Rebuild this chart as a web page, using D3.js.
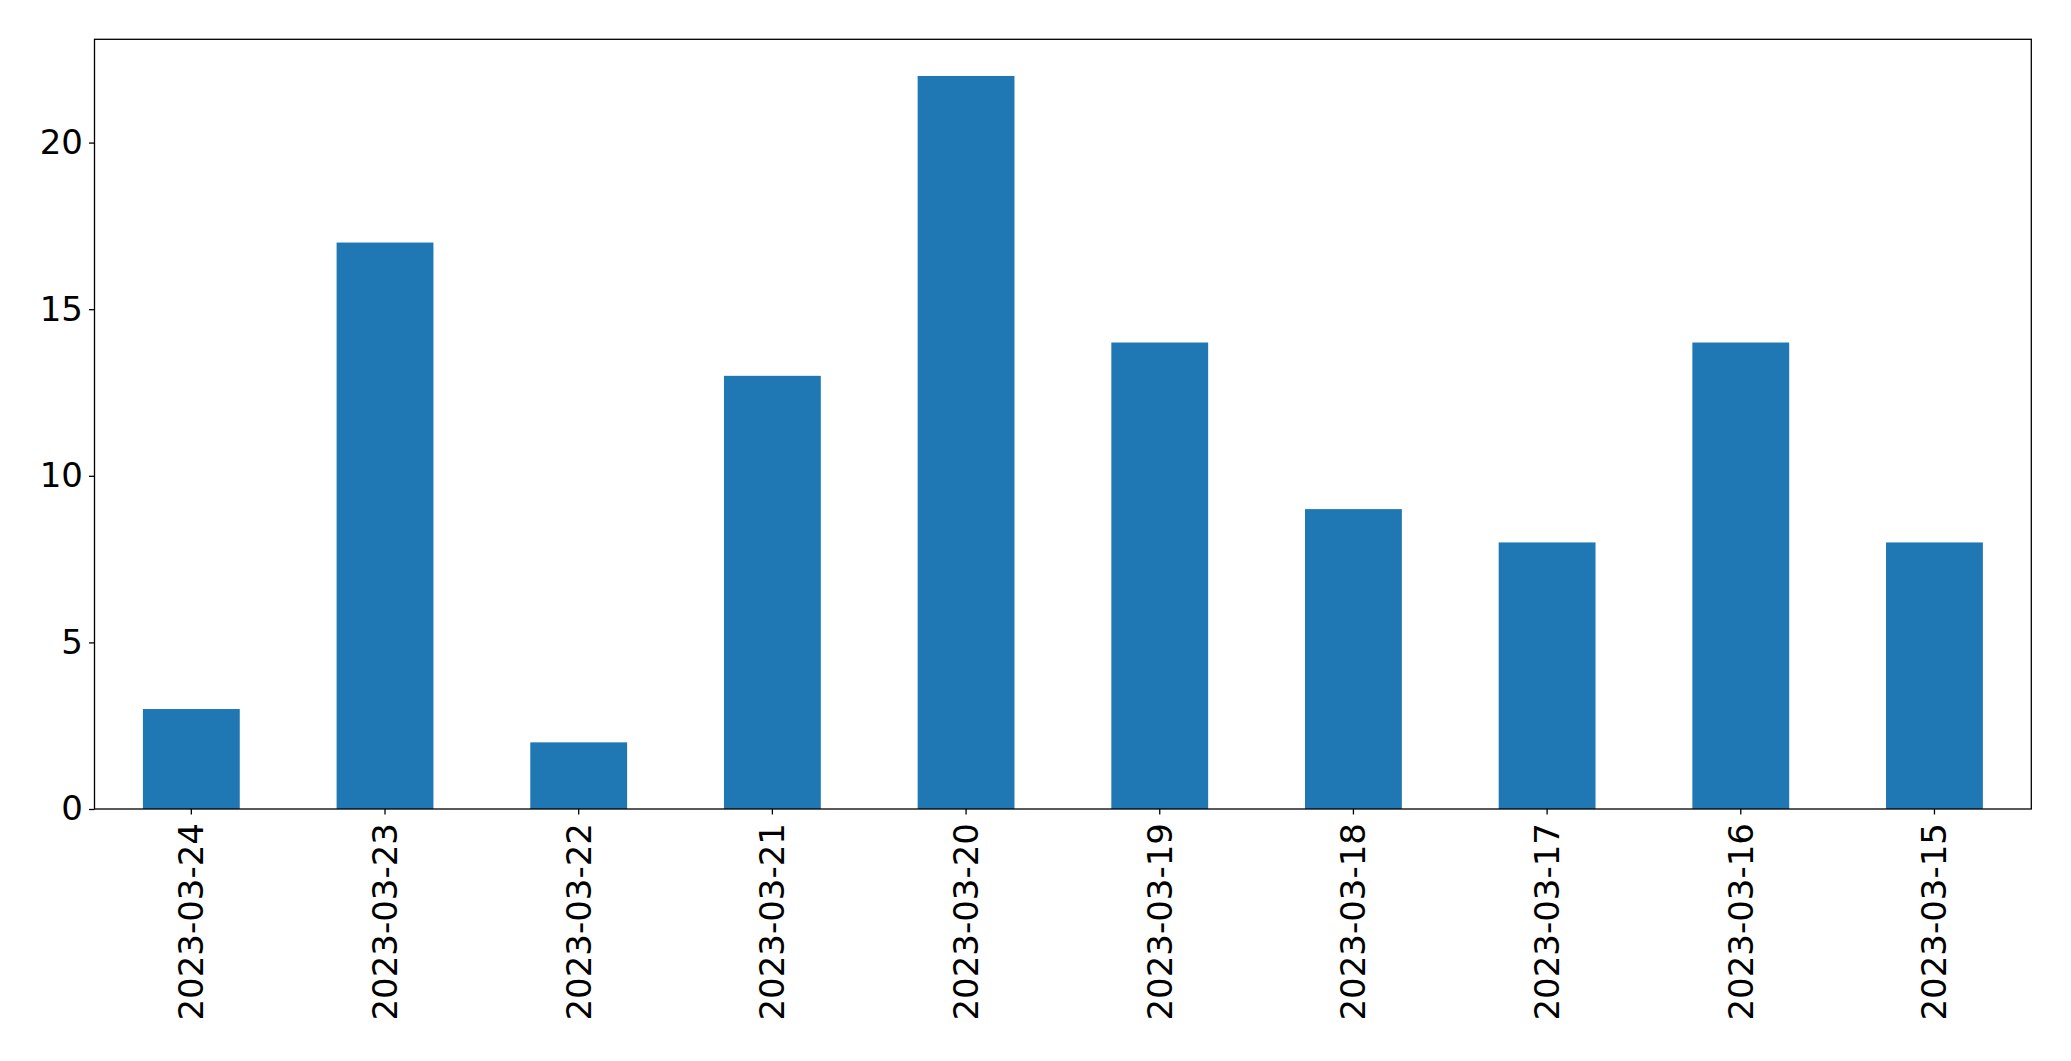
<!DOCTYPE html>
<html><head><meta charset="utf-8">
<script src="https://cdn.jsdelivr.net/npm/d3@7"></script>
<style>body{margin:0;background:#fff;} text{font-family:"DejaVu Sans";}</style>
</head><body>
<svg id="c" width="2071" height="1061"></svg>
<script>
const categories = ["2023-03-24","2023-03-23","2023-03-22","2023-03-21","2023-03-20","2023-03-19","2023-03-18","2023-03-17","2023-03-16","2023-03-15"];
const values = [3, 17, 2, 13, 22, 14, 9, 8, 14, 8];
const yTicks = [0, 5, 10, 15, 20];

const svg = d3.select("#c");
const L = 94.5, R = 2031.3, T = 39.3, B = 809;
const x = d3.scaleBand().domain(categories).range([L, R]).paddingInner(0.5).paddingOuter(0.25);
const y = d3.scaleLinear().domain([0, d3.max(values) * 1.05]).range([B, T]);

svg.append("g").selectAll("rect").data(values).join("rect")
  .attr("x", (d, i) => x(categories[i]))
  .attr("width", x.bandwidth())
  .attr("y", d => y(d))
  .attr("height", d => y(0) - y(d))
  .attr("fill", "#1f77b4");

const fs = 34;
const ya = svg.append("g").attr("transform", `translate(${L},0)`)
  .call(d3.axisLeft(y).tickValues(yTicks).tickSize(5.5).tickPadding(6).tickFormat(d3.format("d")));
ya.select(".domain").remove();
ya.selectAll("line").attr("stroke", "#000").attr("stroke-width", 1.3);
ya.selectAll("text").attr("font-size", fs).attr("font-family", "DejaVu Sans").attr("fill", "#000");

const xa = svg.append("g").attr("transform", `translate(0,${B})`)
  .call(d3.axisBottom(x).tickSize(5.5).tickPadding(0));
xa.select(".domain").remove();
xa.selectAll("line").attr("stroke", "#000").attr("stroke-width", 1.3);
xa.selectAll("text")
  .attr("font-size", fs).attr("font-family", "DejaVu Sans").attr("fill", "#000")
  .attr("text-anchor", "end").attr("dy", "0.35em")
  .attr("transform", "translate(0,14) rotate(-90)")
  .attr("y", 0).attr("x", 0);

svg.append("rect").attr("x", L).attr("y", T).attr("width", R - L).attr("height", B - T)
  .attr("fill", "none").attr("stroke", "#000").attr("stroke-width", 1.3);
</script>
</body></html>
